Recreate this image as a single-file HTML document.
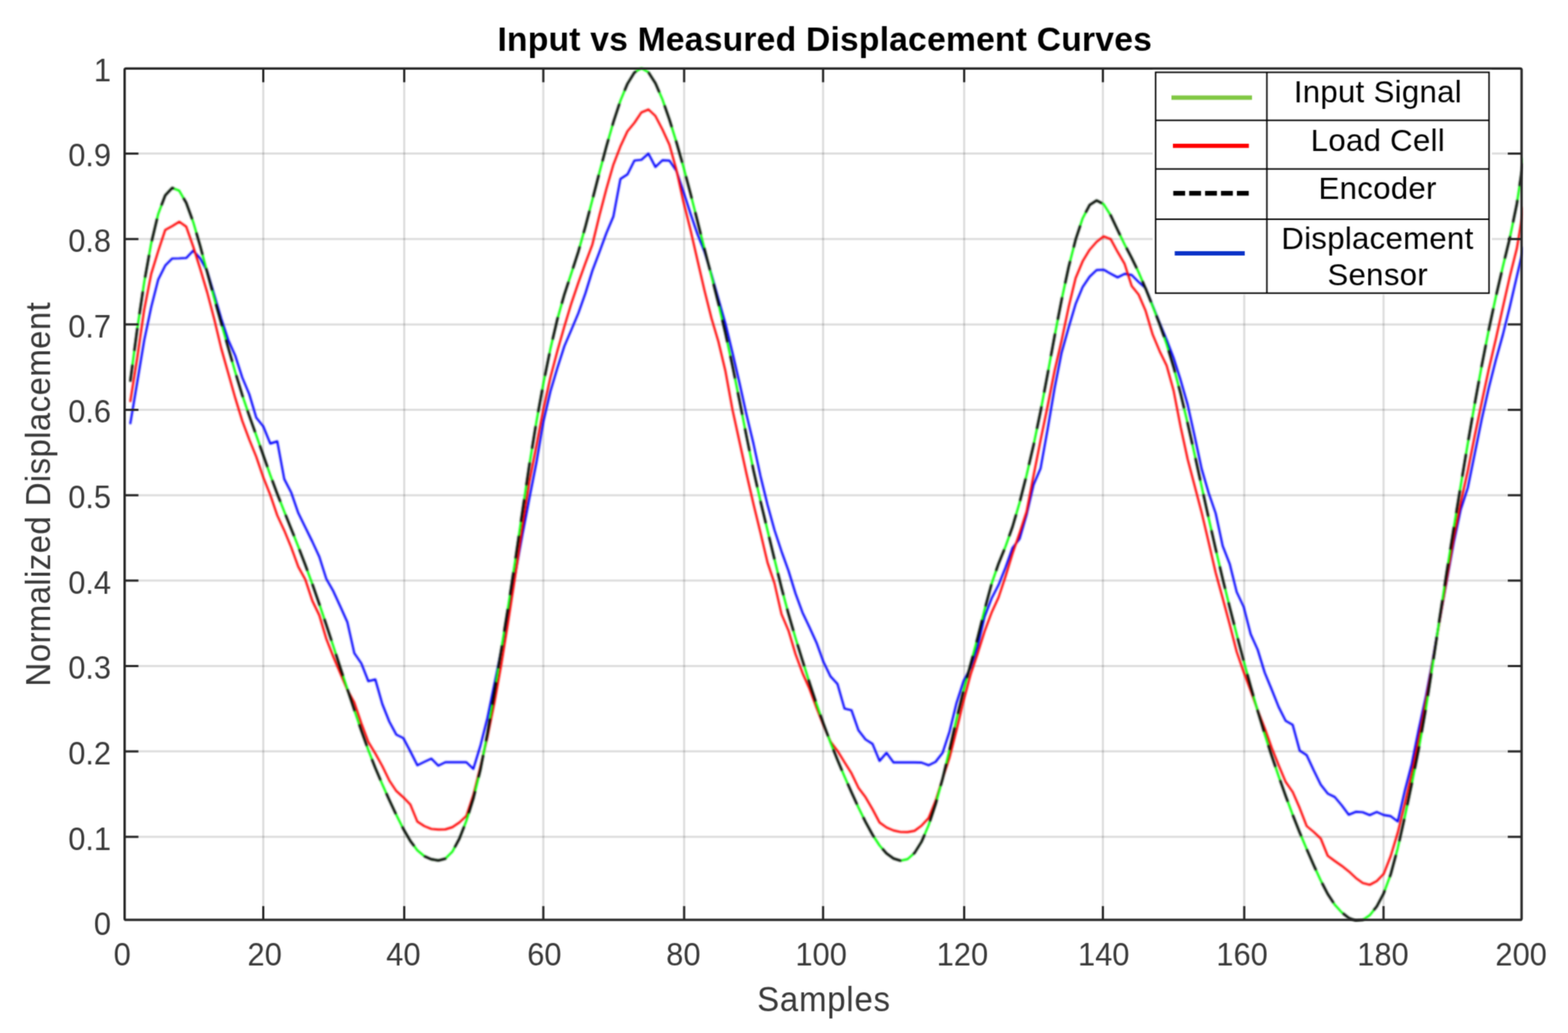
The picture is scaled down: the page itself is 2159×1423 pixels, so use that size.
<!DOCTYPE html>
<html lang="en">
<head>
<meta charset="utf-8">
<title>Input vs Measured Displacement Curves</title>
<style>
html,body{margin:0;padding:0;background:#fff;}
body{width:2159px;height:1423px;overflow:hidden;}
svg{display:block;position:absolute;left:0;top:0;}
text{white-space:pre;}
</style>
</head>
<body>
<svg xmlns="http://www.w3.org/2000/svg" width="2159" height="1423" viewBox="0 0 2159 1423">
<defs><filter id="soft" x="0" y="0" width="2159" height="1423" filterUnits="userSpaceOnUse" color-interpolation-filters="sRGB"><feConvolveMatrix order="3" kernelMatrix="0.0400 0.1200 0.0400 0.1200 0.3600 0.1200 0.0400 0.1200 0.0400" divisor="1" edgeMode="duplicate" preserveAlpha="true"/></filter>
<filter id="soft2" x="0" y="0" width="2159" height="1423" filterUnits="userSpaceOnUse" color-interpolation-filters="sRGB"><feConvolveMatrix order="5" kernelMatrix="1 4 6 4 1 4 16 24 16 4 6 24 36 24 6 4 16 24 16 4 1 4 6 4 1" divisor="256" edgeMode="none" preserveAlpha="false"/></filter></defs>
<g id="chart">
<rect width="2159" height="1423" fill="#fff"/>
<g stroke="#000" stroke-opacity="0.13" stroke-width="3.0" fill="none">
<line x1="362.5" y1="94.3" x2="362.5" y2="1267.2"/>
<line x1="556.6" y1="94.3" x2="556.6" y2="1267.2"/>
<line x1="748.1" y1="94.3" x2="748.1" y2="1267.2"/>
<line x1="942.0" y1="94.3" x2="942.0" y2="1267.2"/>
<line x1="1133.3" y1="94.3" x2="1133.3" y2="1267.2"/>
<line x1="1327.6" y1="94.3" x2="1327.6" y2="1267.2"/>
<line x1="1518.6" y1="94.3" x2="1518.6" y2="1267.2"/>
<line x1="1713.2" y1="94.3" x2="1713.2" y2="1267.2"/>
<line x1="1905.0" y1="94.3" x2="1905.0" y2="1267.2"/>
<line x1="171.6" y1="1152.8" x2="2095.1" y2="1152.8"/>
<line x1="171.6" y1="1035.1" x2="2095.1" y2="1035.1"/>
<line x1="171.6" y1="917.5" x2="2095.1" y2="917.5"/>
<line x1="171.6" y1="799.8" x2="2095.1" y2="799.8"/>
<line x1="171.6" y1="682.2" x2="2095.1" y2="682.2"/>
<line x1="171.6" y1="564.6" x2="2095.1" y2="564.6"/>
<line x1="171.6" y1="446.9" x2="2095.1" y2="446.9"/>
<line x1="171.6" y1="329.3" x2="2095.1" y2="329.3"/>
<line x1="171.6" y1="211.6" x2="2095.1" y2="211.6"/>
</g>
<clipPath id="cp"><rect x="169.6" y="91.3" width="1927.5" height="1178.9"/></clipPath>
<g clip-path="url(#cp)"><g fill="none" stroke-linejoin="round" stroke-linecap="butt" filter="url(#soft2)">
<path d="M179.29,584.2 L188.94,526.7 L198.58,468.7 L208.22,423.0 L217.86,385.2 L227.50,365.8 L237.15,356.1 L246.79,355.9 L256.43,355.4 L266.07,345.2 L275.72,356.0 L285.36,373.7 L295.00,405.9 L304.64,438.6 L314.29,468.3 L323.93,490.0 L333.57,520.0 L343.22,543.0 L352.86,575.3 L362.50,587.4 L372.14,611.0 L381.78,608.0 L391.43,660.0 L401.07,678.7 L410.71,706.7 L420.36,726.3 L430.00,746.0 L439.64,766.9 L449.28,797.4 L458.92,814.3 L468.57,835.4 L478.21,856.8 L487.85,899.8 L497.50,913.8 L507.14,938.4 L516.78,936.0 L526.42,969.9 L536.07,994.1 L545.71,1012.0 L555.35,1016.7 L564.99,1035.0 L574.63,1054.2 L584.28,1049.5 L593.92,1045.0 L603.56,1054.7 L613.21,1050.0 L622.85,1050.0 L632.49,1050.0 L642.13,1050.0 L651.77,1059.2 L661.42,1027.5 L671.06,989.4 L680.70,942.3 L690.35,894.8 L699.99,843.1 L709.63,790.0 L719.27,736.9 L728.91,686.6 L738.56,637.4 L748.20,580.9 L757.84,539.3 L767.49,506.8 L777.13,476.7 L786.77,454.2 L796.41,431.2 L806.05,404.0 L815.70,372.7 L825.34,347.3 L834.98,321.0 L844.62,298.1 L854.27,246.5 L863.91,240.3 L873.55,221.1 L883.19,220.1 L892.84,211.6 L902.48,230.0 L912.12,220.8 L921.76,221.2 L931.41,235.5 L941.05,263.9 L950.69,294.0 L960.34,322.5 L969.98,346.7 L979.62,377.9 L989.26,412.0 L998.90,445.9 L1008.55,485.9 L1018.19,527.4 L1027.83,571.0 L1037.48,611.2 L1047.12,655.8 L1056.76,695.1 L1066.40,730.1 L1076.05,759.4 L1085.69,786.2 L1095.33,817.5 L1104.97,843.8 L1114.62,864.1 L1124.26,885.3 L1133.90,911.9 L1143.54,931.8 L1153.18,942.3 L1162.83,976.1 L1172.47,978.4 L1182.11,1006.2 L1191.76,1018.6 L1201.40,1024.8 L1211.04,1048.2 L1220.68,1037.0 L1230.33,1050.3 L1239.97,1050.3 L1249.61,1050.3 L1259.25,1050.3 L1268.90,1050.5 L1278.54,1054.2 L1288.18,1049.5 L1297.82,1037.2 L1307.47,1007.7 L1317.11,968.2 L1326.75,938.1 L1336.39,919.9 L1346.04,890.7 L1355.68,849.7 L1365.32,824.4 L1374.96,805.7 L1384.61,781.5 L1394.25,754.6 L1403.89,742.3 L1413.53,709.1 L1423.18,667.7 L1432.82,645.1 L1442.46,591.4 L1452.10,534.8 L1461.75,485.8 L1471.39,451.4 L1481.03,418.8 L1490.67,395.5 L1500.32,381.1 L1509.96,372.0 L1519.60,371.6 L1529.24,376.9 L1538.88,382.1 L1548.53,377.3 L1558.17,378.8 L1567.81,388.5 L1577.46,397.0 L1587.10,421.1 L1596.74,444.8 L1606.38,468.0 L1616.03,493.3 L1625.67,523.8 L1635.31,557.5 L1644.95,601.0 L1654.60,646.0 L1664.24,679.1 L1673.88,707.1 L1683.52,752.0 L1693.17,776.7 L1702.81,815.5 L1712.45,836.0 L1722.09,873.6 L1731.74,895.0 L1741.38,926.5 L1751.02,949.9 L1760.66,974.0 L1770.31,993.1 L1779.95,998.6 L1789.59,1034.0 L1799.23,1040.3 L1808.88,1061.2 L1818.52,1080.8 L1828.16,1093.2 L1837.80,1097.9 L1847.45,1109.4 L1857.09,1122.3 L1866.73,1118.3 L1876.37,1118.9 L1886.02,1122.9 L1895.66,1118.5 L1905.30,1122.8 L1914.94,1124.3 L1924.59,1131.6 L1934.23,1089.7 L1943.87,1052.4 L1953.51,1004.2 L1963.16,959.9 L1972.80,908.4 L1982.44,853.0 L1992.08,799.9 L2001.73,747.3 L2011.37,701.8 L2021.01,672.1 L2030.65,624.8 L2040.30,577.3 L2049.94,534.4 L2059.58,496.1 L2069.22,461.5 L2078.86,422.6 L2088.51,381.0 L2098.15,339.9" stroke="#0000ff" stroke-width="2.9"/>
<path d="M179.29,553.7 L188.94,492.9 L198.58,426.5 L208.22,377.3 L217.86,345.9 L227.50,316.8 L237.15,311.4 L246.79,305.4 L256.43,312.2 L266.07,339.7 L275.72,370.5 L285.36,403.0 L295.00,439.6 L304.64,480.0 L314.29,514.2 L323.93,548.3 L333.57,579.7 L343.22,605.5 L352.86,629.3 L362.50,657.5 L372.14,681.7 L381.78,710.0 L391.43,730.8 L401.07,754.2 L410.71,780.8 L420.36,798.3 L430.00,827.5 L439.64,847.5 L449.28,880.0 L458.92,904.6 L468.57,927.4 L478.21,950.3 L487.85,967.6 L497.50,996.3 L507.14,1021.9 L516.78,1038.0 L526.42,1055.4 L536.07,1075.2 L545.71,1089.7 L555.35,1098.3 L564.99,1108.2 L574.63,1131.8 L584.28,1138.0 L593.92,1141.9 L603.56,1142.7 L613.21,1142.5 L622.85,1139.5 L632.49,1133.0 L642.13,1124.0 L651.77,1095.0 L661.42,1056.3 L671.06,1015.6 L680.70,968.4 L690.35,914.8 L699.99,854.8 L709.63,792.0 L719.27,725.7 L728.91,663.4 L738.56,614.1 L748.20,563.5 L757.84,520.1 L767.49,483.4 L777.13,449.7 L786.77,417.7 L796.41,389.2 L806.05,362.5 L815.70,336.7 L825.34,296.8 L834.98,260.1 L844.62,226.7 L854.27,201.7 L863.91,180.8 L873.55,169.1 L883.19,154.8 L892.84,150.8 L902.48,159.8 L912.12,178.4 L921.76,199.4 L931.41,234.2 L941.05,278.2 L950.69,316.4 L960.34,358.3 L969.98,400.0 L979.62,438.4 L989.26,470.9 L998.90,511.4 L1008.55,564.2 L1018.19,608.4 L1027.83,652.6 L1037.48,694.3 L1047.12,733.9 L1056.76,774.7 L1066.40,803.5 L1076.05,846.0 L1085.69,868.7 L1095.33,901.0 L1104.97,927.1 L1114.62,948.9 L1124.26,975.0 L1133.90,999.5 L1143.54,1021.5 L1153.18,1034.3 L1162.83,1050.0 L1172.47,1065.3 L1182.11,1085.3 L1191.76,1098.2 L1201.40,1114.8 L1211.04,1133.0 L1220.68,1139.9 L1230.33,1144.0 L1239.97,1146.1 L1249.61,1146.3 L1259.25,1144.5 L1268.90,1137.3 L1278.54,1127.0 L1288.18,1103.4 L1297.82,1072.7 L1307.47,1043.6 L1317.11,1005.6 L1326.75,965.4 L1336.39,929.4 L1346.04,900.5 L1355.68,869.8 L1365.32,843.9 L1374.96,822.9 L1384.61,793.7 L1394.25,762.4 L1403.89,734.3 L1413.53,704.7 L1423.18,654.9 L1432.82,606.2 L1442.46,559.6 L1452.10,510.6 L1461.75,469.0 L1471.39,423.2 L1481.03,383.1 L1490.67,360.1 L1500.32,344.1 L1509.96,333.1 L1519.60,325.7 L1529.24,329.3 L1538.88,347.1 L1548.53,363.6 L1558.17,393.9 L1567.81,405.9 L1577.46,428.3 L1587.10,460.8 L1596.74,483.8 L1606.38,503.6 L1616.03,538.4 L1625.67,588.3 L1635.31,632.6 L1644.95,669.3 L1654.60,706.1 L1664.24,747.2 L1673.88,788.8 L1683.52,824.0 L1693.17,860.1 L1702.81,897.9 L1712.45,925.8 L1722.09,951.5 L1731.74,978.5 L1741.38,1003.0 L1751.02,1030.0 L1760.66,1054.3 L1770.31,1077.2 L1779.95,1091.0 L1789.59,1113.2 L1799.23,1138.0 L1808.88,1146.0 L1818.52,1155.1 L1828.16,1178.9 L1837.80,1186.0 L1847.45,1192.7 L1857.09,1200.3 L1866.73,1209.3 L1876.37,1216.3 L1886.02,1218.9 L1895.66,1213.7 L1905.30,1203.8 L1914.94,1179.1 L1924.59,1147.0 L1934.23,1107.5 L1943.87,1065.2 L1953.51,1017.2 L1963.16,966.5 L1972.80,910.9 L1982.44,853.5 L1992.08,797.2 L2001.73,740.8 L2011.37,692.1 L2021.01,648.5 L2030.65,599.9 L2040.30,553.8 L2049.94,508.6 L2059.58,467.4 L2069.22,423.8 L2078.86,381.0 L2088.51,342.4 L2098.15,284.9" stroke="#ff0000" stroke-width="2.9"/>
<path d="M179.29,525.8 L188.94,453.2 L198.58,388.8 L208.22,335.1 L217.86,294.7 L227.50,269.1 L237.15,258.8 L246.79,262.7 L256.43,279.4 L266.07,305.9 L275.72,339.1 L285.36,375.3 L295.00,411.0 L304.64,445.2 L314.29,479.1 L323.93,512.6 L333.57,544.2 L343.22,572.8 L352.86,599.8 L362.50,627.1 L372.14,654.4 L381.78,680.3 L391.43,704.8 L401.07,728.8 L410.71,753.0 L420.36,778.1 L430.00,804.4 L439.64,832.1 L449.28,860.8 L458.92,890.1 L468.57,919.7 L478.21,949.0 L487.85,978.1 L497.50,1006.4 L507.14,1033.3 L516.78,1057.9 L526.42,1080.5 L536.07,1102.1 L545.71,1122.7 L555.35,1141.8 L564.99,1158.4 L574.63,1171.3 L584.28,1179.4 L593.92,1183.7 L603.56,1185.3 L613.21,1182.8 L622.85,1173.2 L632.49,1155.4 L642.13,1130.8 L651.77,1100.1 L661.42,1060.7 L671.06,1010.8 L680.70,953.5 L690.35,894.2 L699.99,834.1 L709.63,770.9 L719.27,704.9 L728.91,640.3 L738.56,581.2 L748.20,528.1 L757.84,480.7 L767.49,439.5 L777.13,405.4 L786.77,376.2 L796.41,346.4 L806.05,312.1 L815.70,275.1 L825.34,237.7 L834.98,201.6 L844.62,168.1 L854.27,138.8 L863.91,115.5 L873.55,99.8 L883.19,94.0 L892.84,99.6 L902.48,114.7 L912.12,137.0 L921.76,164.7 L931.41,196.0 L941.05,230.0 L950.69,266.3 L960.34,304.5 L969.98,342.8 L979.62,380.2 L989.26,418.3 L998.90,459.3 L1008.55,504.0 L1018.19,551.7 L1027.83,600.8 L1037.48,647.8 L1047.12,690.3 L1056.76,730.4 L1066.40,770.4 L1076.05,809.6 L1085.69,845.8 L1095.33,878.8 L1104.97,910.0 L1114.62,940.4 L1124.26,969.6 L1133.90,997.1 L1143.54,1022.9 L1153.18,1046.9 L1162.83,1069.7 L1172.47,1091.5 L1182.11,1112.6 L1191.76,1132.2 L1201.40,1149.9 L1211.04,1164.6 L1220.68,1175.7 L1230.33,1182.7 L1239.97,1185.6 L1249.61,1183.5 L1259.25,1175.0 L1268.90,1159.5 L1278.54,1137.0 L1288.18,1108.0 L1297.82,1073.0 L1307.47,1032.7 L1317.11,990.4 L1326.75,951.0 L1336.39,915.2 L1346.04,878.9 L1355.68,840.1 L1365.32,804.2 L1374.96,776.3 L1384.61,752.5 L1394.25,725.4 L1403.89,692.3 L1413.53,654.5 L1423.18,612.8 L1432.82,566.4 L1442.46,515.4 L1452.10,462.9 L1461.75,413.0 L1471.39,368.1 L1481.03,330.1 L1490.67,300.8 L1500.32,282.4 L1509.96,276.1 L1519.60,281.3 L1529.24,296.5 L1538.88,316.9 L1548.53,336.8 L1558.17,355.2 L1567.81,375.1 L1577.46,397.7 L1587.10,421.8 L1596.74,446.7 L1606.38,474.0 L1616.03,505.9 L1625.67,542.6 L1635.31,583.1 L1644.95,626.2 L1654.60,670.3 L1664.24,713.9 L1673.88,756.4 L1683.52,797.3 L1693.17,836.4 L1702.81,874.1 L1712.45,910.5 L1722.09,945.6 L1731.74,979.4 L1741.38,1011.3 L1751.02,1041.2 L1760.66,1069.5 L1770.31,1096.6 L1779.95,1122.6 L1789.59,1146.9 L1799.23,1169.8 L1808.88,1191.8 L1818.52,1212.9 L1828.16,1231.5 L1837.80,1246.2 L1847.45,1256.9 L1857.09,1264.5 L1866.73,1268.4 L1876.37,1267.4 L1886.02,1260.8 L1895.66,1248.7 L1905.30,1230.4 L1914.94,1204.2 L1924.59,1168.3 L1934.23,1125.4 L1943.87,1079.6 L1953.51,1031.4 L1963.16,976.8 L1972.80,914.8 L1982.44,850.2 L1992.08,787.6 L2001.73,727.3 L2011.37,668.4 L2021.01,611.0 L2030.65,555.7 L2040.30,503.3 L2049.94,454.3 L2059.58,409.2 L2069.22,367.6 L2078.86,328.0 L2088.51,281.2 L2098.15,217.5" stroke="#00ff00" stroke-width="2.9"/>
<path d="M179.29,525.8 L188.94,453.2 L198.58,388.8 L208.22,335.1 L217.86,294.7 L227.50,269.1 L237.15,258.8 L246.79,262.7 L256.43,279.4 L266.07,305.9 L275.72,339.1 L285.36,375.3 L295.00,411.0 L304.64,445.2 L314.29,479.1 L323.93,512.6 L333.57,544.2 L343.22,572.8 L352.86,599.8 L362.50,627.1 L372.14,654.4 L381.78,680.3 L391.43,704.8 L401.07,728.8 L410.71,753.0 L420.36,778.1 L430.00,804.4 L439.64,832.1 L449.28,860.8 L458.92,890.1 L468.57,919.7 L478.21,949.0 L487.85,978.1 L497.50,1006.4 L507.14,1033.3 L516.78,1057.9 L526.42,1080.5 L536.07,1102.1 L545.71,1122.7 L555.35,1141.8 L564.99,1158.4 L574.63,1171.3 L584.28,1179.4 L593.92,1183.7 L603.56,1185.3 L613.21,1182.8 L622.85,1173.2 L632.49,1155.4 L642.13,1130.8 L651.77,1100.1 L661.42,1060.7 L671.06,1010.8 L680.70,953.5 L690.35,894.2 L699.99,834.1 L709.63,770.9 L719.27,704.9 L728.91,640.3 L738.56,581.2 L748.20,528.1 L757.84,480.7 L767.49,439.5 L777.13,405.4 L786.77,376.2 L796.41,346.4 L806.05,312.1 L815.70,275.1 L825.34,237.7 L834.98,201.6 L844.62,168.1 L854.27,138.8 L863.91,115.5 L873.55,99.8 L883.19,94.0 L892.84,99.6 L902.48,114.7 L912.12,137.0 L921.76,164.7 L931.41,196.0 L941.05,230.0 L950.69,266.3 L960.34,304.5 L969.98,342.8 L979.62,380.2 L989.26,418.3 L998.90,459.3 L1008.55,504.0 L1018.19,551.7 L1027.83,600.8 L1037.48,647.8 L1047.12,690.3 L1056.76,730.4 L1066.40,770.4 L1076.05,809.6 L1085.69,845.8 L1095.33,878.8 L1104.97,910.0 L1114.62,940.4 L1124.26,969.6 L1133.90,997.1 L1143.54,1022.9 L1153.18,1046.9 L1162.83,1069.7 L1172.47,1091.5 L1182.11,1112.6 L1191.76,1132.2 L1201.40,1149.9 L1211.04,1164.6 L1220.68,1175.7 L1230.33,1182.7 L1239.97,1185.6 L1249.61,1183.5 L1259.25,1175.0 L1268.90,1159.5 L1278.54,1137.0 L1288.18,1108.0 L1297.82,1073.0 L1307.47,1032.7 L1317.11,990.4 L1326.75,951.0 L1336.39,915.2 L1346.04,878.9 L1355.68,840.1 L1365.32,804.2 L1374.96,776.3 L1384.61,752.5 L1394.25,725.4 L1403.89,692.3 L1413.53,654.5 L1423.18,612.8 L1432.82,566.4 L1442.46,515.4 L1452.10,462.9 L1461.75,413.0 L1471.39,368.1 L1481.03,330.1 L1490.67,300.8 L1500.32,282.4 L1509.96,276.1 L1519.60,281.3 L1529.24,296.5 L1538.88,316.9 L1548.53,336.8 L1558.17,355.2 L1567.81,375.1 L1577.46,397.7 L1587.10,421.8 L1596.74,446.7 L1606.38,474.0 L1616.03,505.9 L1625.67,542.6 L1635.31,583.1 L1644.95,626.2 L1654.60,670.3 L1664.24,713.9 L1673.88,756.4 L1683.52,797.3 L1693.17,836.4 L1702.81,874.1 L1712.45,910.5 L1722.09,945.6 L1731.74,979.4 L1741.38,1011.3 L1751.02,1041.2 L1760.66,1069.5 L1770.31,1096.6 L1779.95,1122.6 L1789.59,1146.9 L1799.23,1169.8 L1808.88,1191.8 L1818.52,1212.9 L1828.16,1231.5 L1837.80,1246.2 L1847.45,1256.9 L1857.09,1264.5 L1866.73,1268.4 L1876.37,1267.4 L1886.02,1260.8 L1895.66,1248.7 L1905.30,1230.4 L1914.94,1204.2 L1924.59,1168.3 L1934.23,1125.4 L1943.87,1079.6 L1953.51,1031.4 L1963.16,976.8 L1972.80,914.8 L1982.44,850.2 L1992.08,787.6 L2001.73,727.3 L2011.37,668.4 L2021.01,611.0 L2030.65,555.7 L2040.30,503.3 L2049.94,454.3 L2059.58,409.2 L2069.22,367.6 L2078.86,328.0 L2088.51,281.2 L2098.15,217.5" stroke="#050505" stroke-width="3.3" stroke-dasharray="31.5 19.5" stroke-dashoffset="8"/>
</g></g>
<g stroke="#262626" stroke-width="3.0" fill="none">
<line x1="362.5" y1="1267.2" x2="362.5" y2="1248.2"/>
<line x1="362.5" y1="94.3" x2="362.5" y2="113.3"/>
<line x1="556.6" y1="1267.2" x2="556.6" y2="1248.2"/>
<line x1="556.6" y1="94.3" x2="556.6" y2="113.3"/>
<line x1="748.1" y1="1267.2" x2="748.1" y2="1248.2"/>
<line x1="748.1" y1="94.3" x2="748.1" y2="113.3"/>
<line x1="942.0" y1="1267.2" x2="942.0" y2="1248.2"/>
<line x1="942.0" y1="94.3" x2="942.0" y2="113.3"/>
<line x1="1133.3" y1="1267.2" x2="1133.3" y2="1248.2"/>
<line x1="1133.3" y1="94.3" x2="1133.3" y2="113.3"/>
<line x1="1327.6" y1="1267.2" x2="1327.6" y2="1248.2"/>
<line x1="1327.6" y1="94.3" x2="1327.6" y2="113.3"/>
<line x1="1518.6" y1="1267.2" x2="1518.6" y2="1248.2"/>
<line x1="1518.6" y1="94.3" x2="1518.6" y2="113.3"/>
<line x1="1713.2" y1="1267.2" x2="1713.2" y2="1248.2"/>
<line x1="1713.2" y1="94.3" x2="1713.2" y2="113.3"/>
<line x1="1905.0" y1="1267.2" x2="1905.0" y2="1248.2"/>
<line x1="1905.0" y1="94.3" x2="1905.0" y2="113.3"/>
<line x1="171.6" y1="1152.8" x2="190.6" y2="1152.8"/>
<line x1="2095.1" y1="1152.8" x2="2076.1" y2="1152.8"/>
<line x1="171.6" y1="1035.1" x2="190.6" y2="1035.1"/>
<line x1="2095.1" y1="1035.1" x2="2076.1" y2="1035.1"/>
<line x1="171.6" y1="917.5" x2="190.6" y2="917.5"/>
<line x1="2095.1" y1="917.5" x2="2076.1" y2="917.5"/>
<line x1="171.6" y1="799.8" x2="190.6" y2="799.8"/>
<line x1="2095.1" y1="799.8" x2="2076.1" y2="799.8"/>
<line x1="171.6" y1="682.2" x2="190.6" y2="682.2"/>
<line x1="2095.1" y1="682.2" x2="2076.1" y2="682.2"/>
<line x1="171.6" y1="564.6" x2="190.6" y2="564.6"/>
<line x1="2095.1" y1="564.6" x2="2076.1" y2="564.6"/>
<line x1="171.6" y1="446.9" x2="190.6" y2="446.9"/>
<line x1="2095.1" y1="446.9" x2="2076.1" y2="446.9"/>
<line x1="171.6" y1="329.3" x2="190.6" y2="329.3"/>
<line x1="2095.1" y1="329.3" x2="2076.1" y2="329.3"/>
<line x1="171.6" y1="211.6" x2="190.6" y2="211.6"/>
<line x1="2095.1" y1="211.6" x2="2076.1" y2="211.6"/>
</g>
<rect x="171.6" y="94.3" width="1923.5" height="1172.9" fill="none" stroke="#262626" stroke-width="3.3" rx="2" ry="2"/>
<rect x="1587" y="95.9" width="467.2" height="309.7" fill="#fff"/>
<g stroke="#000" stroke-width="2" fill="none">
<rect x="1591.2" y="99.6" width="459.10000000000014" height="304.20000000000005"/>
<line x1="1744.4" y1="99.6" x2="1744.4" y2="403.8"/>
<line x1="1591.2" y1="165.8" x2="2050.3" y2="165.8"/>
<line x1="1591.2" y1="232.8" x2="2050.3" y2="232.8"/>
<line x1="1591.2" y1="302.0" x2="2050.3" y2="302.0"/>
</g>
<g fill="none" stroke-width="5.8">
<line x1="1613" y1="134.5" x2="1723.9" y2="134.5" stroke="#80c843"/>
<line x1="1615" y1="200.9" x2="1719.6" y2="200.9" stroke="#ff0000"/>
<line x1="1615.5" y1="266.3" x2="1719.4" y2="266.3" stroke="#000" stroke-width="6.4" stroke-dasharray="16.3 5.6"/>
<line x1="1617.5" y1="349" x2="1713.9" y2="349" stroke="#0a32c8"/>
</g>
<g font-family="'Liberation Sans', Arial, Helvetica, sans-serif" fill="#000" font-size="43" letter-spacing="0.35" text-anchor="middle">
<text x="1897.2" y="141.0">Input Signal</text>
<text x="1897.2" y="207.7">Load Cell</text>
<text x="1896.8" y="274.2">Encoder</text>
<text x="1896.6" y="342.9">Displacement</text>
<text x="1897.0" y="393.1">Sensor</text>
</g>
<g font-family="'Liberation Sans', Arial, Helvetica, sans-serif" fill="#383838" font-size="42.5" text-anchor="middle">
<text transform="translate(168.3 1330.1) scale(1 1.045)">0</text>
<text transform="translate(364.4 1330.1) scale(1 1.045)">20</text>
<text transform="translate(555.4 1330.1) scale(1 1.045)">40</text>
<text transform="translate(749.6 1330.1) scale(1 1.045)">60</text>
<text transform="translate(941.0 1330.1) scale(1 1.045)">80</text>
<text transform="translate(1130.6 1330.1) scale(1 1.045)">100</text>
<text transform="translate(1325.1 1330.1) scale(1 1.045)">120</text>
<text transform="translate(1519.7 1330.1) scale(1 1.045)">140</text>
<text transform="translate(1710.3 1330.1) scale(1 1.045)">160</text>
<text transform="translate(1904.2 1330.1) scale(1 1.045)">180</text>
<text transform="translate(2094.5 1330.1) scale(1 1.045)">200</text>
</g>
<g font-family="'Liberation Sans', Arial, Helvetica, sans-serif" fill="#383838" font-size="42.5" text-anchor="end">
<text transform="translate(153 1288.2) scale(1 1.045)">0</text>
<text transform="translate(153 1170.6) scale(1 1.045)">0.1</text>
<text transform="translate(153 1052.9) scale(1 1.045)">0.2</text>
<text transform="translate(153 935.3) scale(1 1.045)">0.3</text>
<text transform="translate(153 817.6) scale(1 1.045)">0.4</text>
<text transform="translate(153 700.0) scale(1 1.045)">0.5</text>
<text transform="translate(153 582.4) scale(1 1.045)">0.6</text>
<text transform="translate(153 464.7) scale(1 1.045)">0.7</text>
<text transform="translate(153 347.1) scale(1 1.045)">0.8</text>
<text transform="translate(153 229.4) scale(1 1.045)">0.9</text>
<text transform="translate(153 111.8) scale(1 1.045)">1</text>
</g>
<text font-family="'Liberation Sans', Arial, Helvetica, sans-serif" fill="#383838" font-size="45.5" letter-spacing="1.0" text-anchor="middle" transform="translate(1134.5 1393.2) scale(1 1.07)">Samples</text>
<text font-family="'Liberation Sans', Arial, Helvetica, sans-serif" fill="#383838" font-size="45.5" letter-spacing="0.5" text-anchor="middle" transform="translate(68.6 680.8) rotate(-90) scale(1 1.07)">Normalized Displacement</text>
<text font-family="'Liberation Sans', Arial, Helvetica, sans-serif" fill="#000" font-weight="bold" font-size="46.4" letter-spacing="0.25" text-anchor="middle" x="1135.6" y="69.6">Input vs Measured Displacement Curves</text>
</g>
<use href="#chart" filter="url(#soft)"/>
</svg>
</body>
</html>
